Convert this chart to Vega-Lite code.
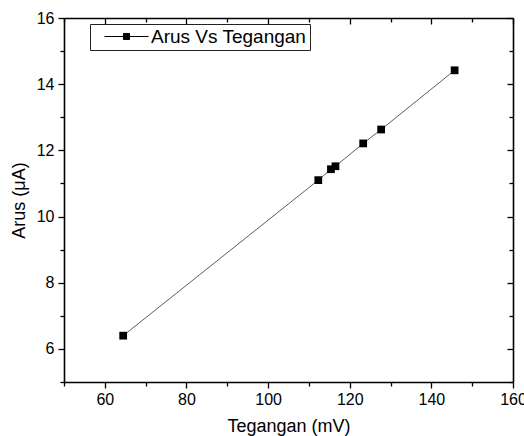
{
  "$schema": "https://vega.github.io/schema/vega-lite/v6.json",
  "width": 449,
  "height": 364,
  "autosize": {"type": "none"},
  "padding": {"left": 64, "top": 18, "right": 11, "bottom": 54},
  "background": "white",
  "config": {
    "font": "Liberation Sans",
    "view": {"stroke": null},
    "axis": {
      "grid": false,
      "domainColor": "black",
      "domainWidth": 1.6,
      "tickColor": "black",
      "tickWidth": 1.3,
      "labelFont": "Liberation Sans",
      "labelFontSize": 16,
      "labelColor": "black",
      "titleFont": "Liberation Sans",
      "titleFontSize": 18,
      "titleFontWeight": "normal",
      "titleColor": "black"
    }
  },
  "data": {
    "values": [
      {"Tegangan": 64.5, "Arus": 6.4, "series": "Arus Vs Tegangan"},
      {"Tegangan": 112.3, "Arus": 11.1, "series": "Arus Vs Tegangan"},
      {"Tegangan": 115.4, "Arus": 11.43, "series": "Arus Vs Tegangan"},
      {"Tegangan": 116.5, "Arus": 11.52, "series": "Arus Vs Tegangan"},
      {"Tegangan": 123.3, "Arus": 12.21, "series": "Arus Vs Tegangan"},
      {"Tegangan": 127.7, "Arus": 12.63, "series": "Arus Vs Tegangan"},
      {"Tegangan": 145.7, "Arus": 14.42, "series": "Arus Vs Tegangan"}
    ]
  },
  "layer": [
    {
      "mark": {"type": "line", "color": "#333333", "strokeWidth": 0.8},
      "encoding": {
        "x": {
          "field": "Tegangan", "type": "quantitative",
          "scale": {"domain": [50, 160], "nice": false, "zero": false},
          "axis": {
            "orient": "bottom",
            "title": "Tegangan (mV)",
            "titlePadding": 10,
            "values": [50, 60, 70, 80, 90, 100, 110, 120, 130, 140, 150, 160],
            "labelExpr": "datum.value % 20 === 0 ? datum.label : ''",
            "tickSize": {"condition": {"test": "datum.value % 20 === 0", "value": 6}, "value": 4},
            "labelPadding": 3,
            "labelFlush": false,
            "labelOverlap": false
          }
        },
        "y": {
          "field": "Arus", "type": "quantitative",
          "scale": {"domain": [5, 16], "nice": false, "zero": false},
          "axis": {
            "orient": "left",
            "title": "Arus (μA)",
            "titlePadding": 8,
            "values": [5, 6, 7, 8, 9, 10, 11, 12, 13, 14, 15, 16],
            "labelExpr": "datum.value % 2 === 0 ? datum.label : ''",
            "tickSize": {"condition": {"test": "datum.value % 2 === 0", "value": 6}, "value": 4},
            "labelPadding": 4,
            "labelFlush": false,
            "labelOverlap": false
          }
        }
      }
    },
    {
      "mark": {"type": "square", "size": 60, "filled": true, "opacity": 1},
      "encoding": {
        "x": {
          "field": "Tegangan", "type": "quantitative",
          "axis": {
            "orient": "top",
            "title": null,
            "labels": false,
            "values": [50, 60, 70, 80, 90, 100, 110, 120, 130, 140, 150, 160],
            "tickSize": {"condition": {"test": "datum.value % 20 === 0", "value": -6}, "value": -4}
          }
        },
        "y": {
          "field": "Arus", "type": "quantitative",
          "axis": {
            "orient": "right",
            "title": null,
            "labels": false,
            "values": [5, 6, 7, 8, 9, 10, 11, 12, 13, 14, 15, 16],
            "tickSize": {"condition": {"test": "datum.value % 2 === 0", "value": -6}, "value": -4}
          }
        },
        "color": {
          "field": "series", "type": "nominal",
          "scale": {"range": ["black"]},
          "legend": {
            "title": null,
            "orient": "none",
            "legendX": 26,
            "legendY": 6,
            "padding": 3,
            "strokeColor": "#222222",
            "fillColor": "white",
            "cornerRadius": 0,
            "symbolType": "M-4,0H-0.55M0.55,0H4M-0.55,-0.55H0.55V0.55H-0.55Z",
            "symbolSize": 121,
            "symbolOffset": 24,
            "symbolStrokeWidth": 1,
            "symbolFillColor": "black",
            "symbolStrokeColor": "black",
            "labelOffset": 15,
            "labelFont": "Liberation Sans",
            "labelFontSize": 19,
            "labelColor": "black",
            "labelLimit": 400,
            "encode": {
              "symbols": {"update": {"stroke": {"value": "black"}, "fill": {"value": "black"}, "strokeWidth": {"value": 1}, "opacity": {"value": 1}}}
            }
          }
        }
      }
    }
  ],
  "resolve": {"axis": {"x": "independent", "y": "independent"}}
}
